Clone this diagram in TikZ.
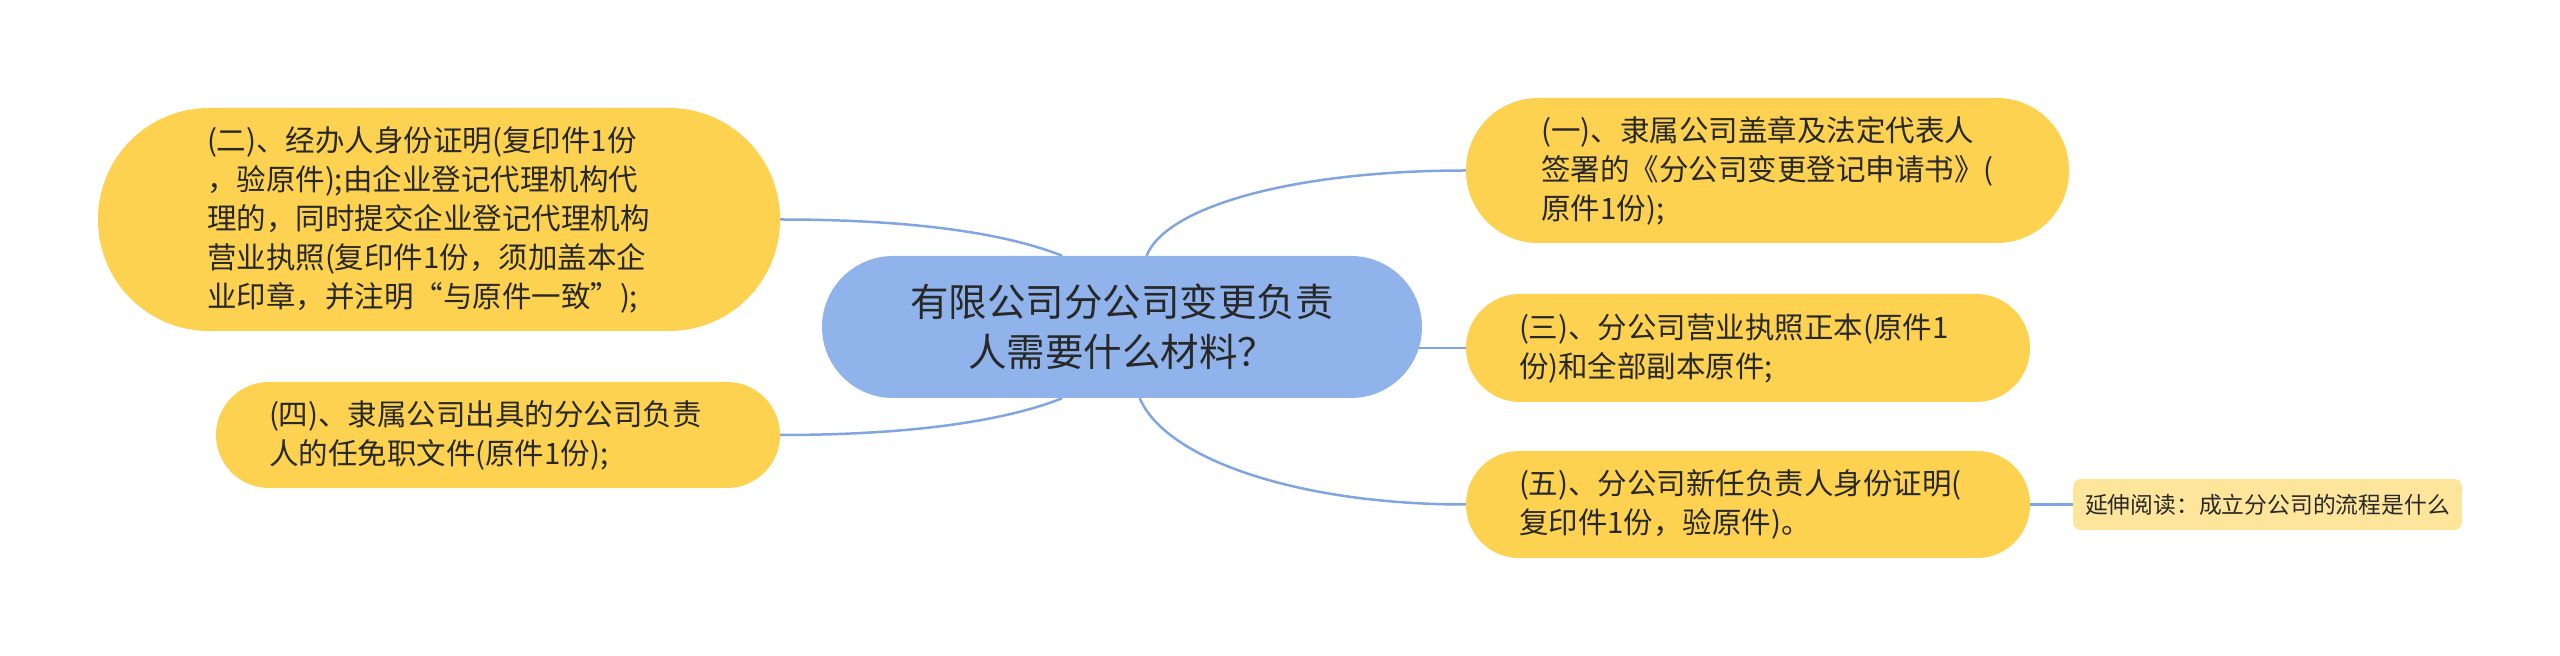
\documentclass[tikz,border=0pt]{standalone}
\usepackage{fontspec}
\setmainfont{Noto Sans CJK SC}
\usetikzlibrary{backgrounds}
\definecolor{topicyellow}{RGB}{252,210,80}
\definecolor{rootblue}{RGB}{143,179,234}
\definecolor{linkblue}{RGB}{128,165,224}
\definecolor{notefill}{RGB}{253,229,155}
\definecolor{inktext}{RGB}{40,40,40}

\begin{document}
\begin{tikzpicture}[x=1pt,y=1pt,
  topic/.style={fill=topicyellow,text=inktext,align=left,inner sep=0pt,
    font=\fontsize{29.5}{39}\selectfont},
  link/.style={draw=linkblue,line width=2.5pt}]
  \useasboundingbox (0,0) rectangle (2560,656);

  \node[fill=rootblue,text=inktext,align=center,inner sep=0pt,
    minimum width=600pt,minimum height=142pt,rounded corners=71pt,
    font=\fontsize{38.5}{50}\selectfont] (root) at (1122,329)
    {有限公司分公司变更负责\\人需要什么材料？};

  \node[topic,text width=464pt,minimum width=682pt,minimum height=223pt,
    rounded corners=111pt] (n2) at (439,436.5)
    {(二)、经办人身份证明(复印件1份\\，验原件);由企业登记代理机构代\\理的，同时提交企业登记代理机构\\营业执照(复印件1份，须加盖本企\\业印章，并注明“与原件一致”);};
  \node[topic,text width=458pt,minimum width=564pt,minimum height=106pt,
    rounded corners=53pt] (n4) at (498,221)
    {(四)、隶属公司出具的分公司负责\\人的任免职文件(原件1份);};
  \node[topic,minimum width=603pt,minimum height=145pt,rounded corners=72pt]
    (n1) at (1767.5,485.5)
    {(一)、隶属公司盖章及法定代表人\\签署的《分公司变更登记申请书》(\\原件1份);};
  \node[topic,text width=458pt,minimum width=564pt,minimum height=108pt,
    rounded corners=54pt] (n3) at (1748,308)
    {(三)、分公司营业执照正本(原件1\\份)和全部副本原件;};
  \node[topic,text width=458pt,minimum width=564pt,minimum height=107pt,
    rounded corners=53pt] (n5) at (1748,151.5)
    {(五)、分公司新任负责人身份证明(\\复印件1份，验原件)。};
  \node[fill=notefill,text=inktext,inner sep=0pt,minimum width=389pt,
    minimum height=51pt,rounded corners=8pt,
    font=\fontsize{22.8}{28}\selectfont] (note) at (2267.5,151.5)
    {延伸阅读：成立分公司的流程是什么};

  \begin{scope}[on background layer]
    \draw[link] (n2.east) .. controls +(120,0) and +(-63,25) .. (root.130);
    \draw[link] (n4.east) .. controls +(120,0) and +(-63,-25) .. (root.230);
    \draw[link] (root.71) .. controls +(20,50) and +(-170,0) .. (n1.west);
    \draw[link] (root.center |- n3.west) -- (n3.west);
    \draw[link] (root.284) .. controls +(25,-60) and +(-170,0) .. (n5.west);
    \draw[link] (n5.east) -- (note.west);
  \end{scope}
\end{tikzpicture}
\end{document}
